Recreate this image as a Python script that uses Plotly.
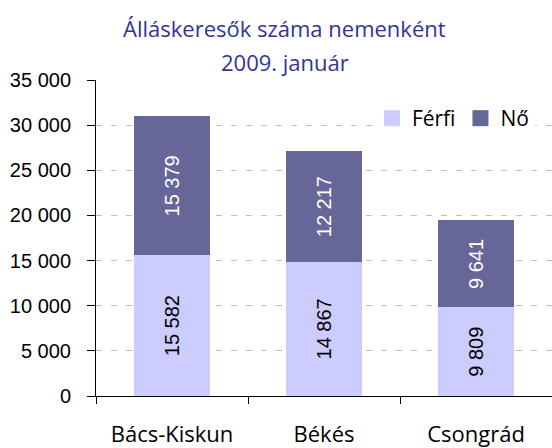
import plotly.graph_objects as go

categories = ["Bács-Kiskun", "Békés", "Csongrád"]
ferfi = [15582, 14867, 9809]
no = [15379, 12217, 9641]
y_tickvals = [0, 5000, 10000, 15000, 20000, 25000, 30000, 35000]
series_names = ["Férfi", "Nő"]
series_colors = ["#CCCCFF", "#666699"]
text_colors = ["black", "white"]

fig = go.Figure()
for name, vals, col, tcol in zip(series_names, [ferfi, no], series_colors, text_colors):
    fig.add_trace(go.Bar(
        x=categories, y=vals, name=name, showlegend=False,
        marker=dict(color=col, line=dict(width=0)),
        texttemplate="%{y:,.0f}", textposition="inside", textangle=-90,
        insidetextanchor="middle", constraintext="none",
        textfont=dict(family="Liberation Sans, Arial", size=20, color=tcol),
    ))
# legend entries with larger square swatches
for name, col in zip(series_names, series_colors):
    fig.add_trace(go.Scatter(
        x=[None], y=[None], mode="markers", name=name,
        marker=dict(symbol="square", size=17, color=col),
    ))

fig.update_layout(
    barmode="stack",
    bargap=0.5,
    width=552, height=448,
    margin=dict(l=96, r=0, t=80, b=52),
    paper_bgcolor="white", plot_bgcolor="white",
    separators=", ",
    showlegend=True,
    legend=dict(
        orientation="h", x=0.605, y=0.943, xanchor="left", yanchor="top",
        bgcolor="white", traceorder="normal", itemsizing="trace",
        font=dict(family="Open Sans", size=21, color="black"),
        itemwidth=30,
    ),
    xaxis=dict(
        showline=True, linecolor="black", linewidth=1,
        ticks="outside", ticklen=7, tickcolor="black", tickson="boundaries",
        tickfont=dict(family="Open Sans", size=22, color="black"),
        ticklabelstandoff=19,
        showgrid=False, automargin=False,
    ),
    yaxis=dict(
        range=[0, 35000], tickvals=y_tickvals, tickformat=",.0f",
        showline=True, linecolor="black", linewidth=1,
        ticks="outside", ticklen=8, tickcolor="black",
        tickfont=dict(family="Liberation Sans, Arial", size=20, color="black"),
        ticklabelstandoff=12,
        showgrid=True, gridcolor="#C0C0C0", griddash="6px,9px", gridwidth=1,
        zeroline=False, automargin=False,
    ),
    annotations=[
        dict(text="Álláskeresők száma nemenként", xref="paper", yref="paper",
             x=0.414, y=1.165, xanchor="center", yanchor="middle", showarrow=False,
             font=dict(family="Open Sans", size=22, color="#333399")),
        dict(text="2009. január", xref="paper", yref="paper",
             x=0.414, y=1.057, xanchor="center", yanchor="middle", showarrow=False,
             font=dict(family="Open Sans", size=22, color="#333399")),
    ],
)

fig.write_html(
    "out.html",
    config={"displayModeBar": False},
    post_script="document.body.style.margin='0px';document.body.style.overflow='hidden';",
)
